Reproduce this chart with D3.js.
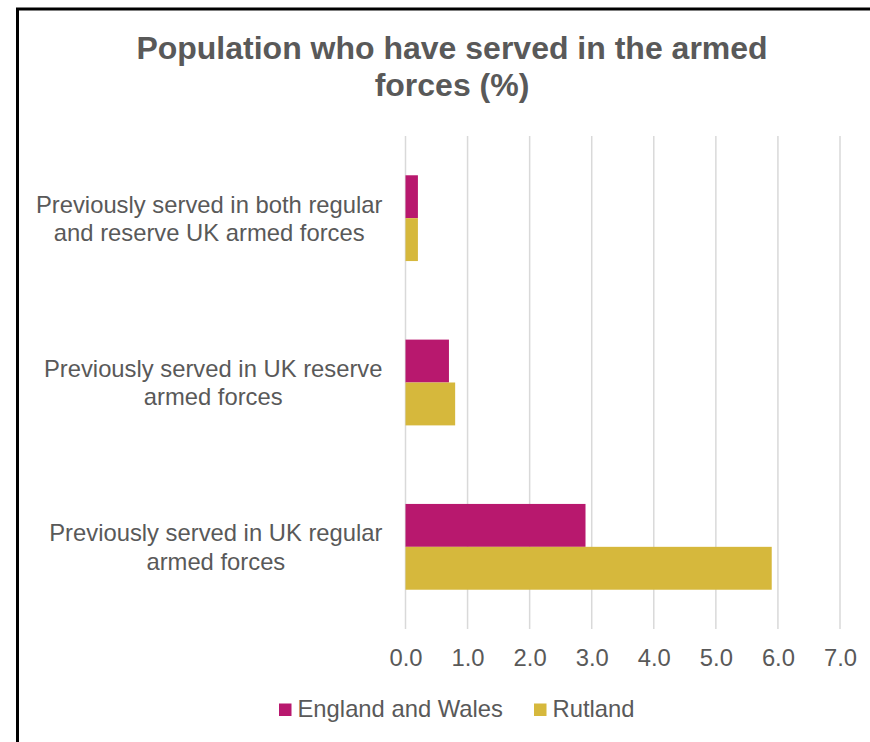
<!DOCTYPE html>
<html>
<head>
<meta charset="utf-8">
<script src="https://cdn.jsdelivr.net/npm/d3@7"></script>
<style>
  html, body { margin: 0; padding: 0; background: #fff; }
  svg { display: block; font-family: "Liberation Sans", Arial, sans-serif; }
</style>
</head>
<body>
<svg id="chart" width="870" height="742"></svg>
<script>
// Categories, top to bottom, each label split into its wrapped lines
const categories = [
  "Previously served in both regular and reserve UK armed forces",
  "Previously served in UK reserve armed forces",
  "Previously served in UK regular armed forces"
];
const categoryLines = [
  ["Previously served in both regular", "and reserve UK armed forces"],
  ["Previously served in UK reserve", "armed forces"],
  ["Previously served in UK regular", "armed forces"]
];
const seriesNames = ["England and Wales", "Rutland"];
const englandWales = [0.2, 0.7, 2.9];
const rutland = [0.2, 0.8, 5.9];
const tickValues = [0, 1, 2, 3, 4, 5, 6, 7];
const titleLines = ["Population who have served in the armed", "forces (%)"];

const colors = ["#b8186e", "#d6b83c"];
const textColor = "#595959";
const gridColor = "#d9d9d9";
const fontFamily = "'Liberation Sans', Arial, sans-serif";
const labelSize = 23.8;

const svg = d3.select("#chart");

// outer frame
svg.append("rect")
  .attr("x", 17.5).attr("y", 9)
  .attr("width", 900).attr("height", 800)
  .attr("fill", "none").attr("stroke", "#000").attr("stroke-width", 3);

// title
svg.append("g").selectAll("text").data(titleLines).join("text")
  .attr("x", 452).attr("y", (d, i) => 59 + i * 37)
  .attr("text-anchor", "middle")
  .attr("font-family", fontFamily)
  .attr("font-size", 32).attr("font-weight", "bold")
  .attr("fill", textColor)
  .text(d => d);

const x = d3.scaleLinear().domain([0, 7]).range([405.5, 840]);
const y = d3.scaleBand().domain(categories).range([136, 629])
  .paddingInner(0.478).paddingOuter(0.239);
const ySeries = d3.scaleBand().domain(seriesNames).range([0, y.bandwidth()]);

// tick labels via axis
const axis = d3.axisBottom(x).tickValues(tickValues).tickFormat(d3.format(".1f")).tickSize(0);
const gAxis = svg.append("g").attr("transform", "translate(0,629)").call(axis)
  .attr("font-family", fontFamily).attr("font-size", labelSize);
gAxis.select(".domain").remove();
gAxis.selectAll("text")
  .attr("fill", textColor)
  .attr("dy", null).attr("y", 36.5);

// vertical gridlines
svg.append("g").selectAll("line").data(tickValues).join("line")
  .attr("x1", d => x(d)).attr("x2", d => x(d))
  .attr("y1", 136).attr("y2", 629)
  .attr("stroke", gridColor).attr("stroke-width", 1.5);

// bars
const rows = categories.map((c, i) => ({ cat: c, values: [englandWales[i], rutland[i]] }));
const gBars = svg.append("g");
rows.forEach(r => {
  r.values.forEach((v, j) => {
    gBars.append("rect")
      .attr("x", x(0))
      .attr("y", y(r.cat) + ySeries(seriesNames[j]))
      .attr("width", x(v) - x(0))
      .attr("height", ySeries.bandwidth())
      .attr("fill", colors[j]);
  });
});

// category labels: block right-aligned, lines centered within block
const labelRight = 382.5;
categories.forEach((c, i) => {
  const cy = y(c) + y.bandwidth() / 2;
  const g = svg.append("g");
  const texts = g.selectAll("text").data(categoryLines[i]).join("text")
    .attr("font-family", fontFamily)
    .attr("font-size", labelSize).attr("fill", textColor)
    .attr("text-anchor", "middle")
    .attr("y", (d, k) => cy - 5.5 + k * 28.3)
    .text(d => d);
  let maxW = 0;
  texts.each(function () { maxW = Math.max(maxW, this.getComputedTextLength()); });
  texts.attr("x", labelRight - maxW / 2);
});

// legend
const legendItems = [
  { name: seriesNames[0], color: colors[0], x: 279 },
  { name: seriesNames[1], color: colors[1], x: 534 }
];
const gLeg = svg.append("g");
legendItems.forEach(it => {
  gLeg.append("rect").attr("x", it.x).attr("y", 703.5).attr("width", 12.5).attr("height", 12.5)
    .attr("fill", it.color);
  gLeg.append("text").attr("x", it.x + 18.5).attr("y", 716.5)
    .attr("font-family", fontFamily)
    .attr("font-size", labelSize).attr("fill", textColor).text(it.name);
});
</script>
</body>
</html>
